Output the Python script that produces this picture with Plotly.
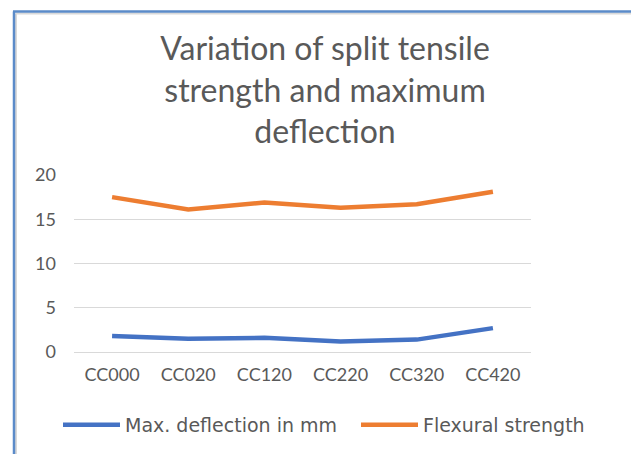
import plotly.graph_objects as go

categories = ["CC000", "CC020", "CC120", "CC220", "CC320", "CC420"]
max_deflection = [1.8, 1.5, 1.6, 1.2, 1.4, 2.7]
flexural_strength = [17.5, 16.1, 16.9, 16.3, 16.7, 18.1]
y_ticks = [0, 5, 10, 15, 20]

FONT = "Lato"
GRAY = "#595959"

fig = go.Figure()
fig.add_trace(go.Scatter(x=categories, y=max_deflection, mode="lines",
                         name="Max. deflection in mm", legend="legend",
                         line=dict(color="#4472C4", width=4.5)))
fig.add_trace(go.Scatter(x=categories, y=flexural_strength, mode="lines",
                         name="Flexural strength", legend="legend2",
                         line=dict(color="#ED7D31", width=4.5)))

L, R, T, B = 74, 100, 175, 102
W, H = 631, 454
pw, ph = W - L - R, H - T - B

def px(x):
    return (x - L) / pw

def py(y):
    return (H - B - y) / ph

shapes = [
    dict(type="line", xref="paper", yref="paper", x0=px(16), x1=px(W), y0=py(13.5), y1=py(13.5),
         line=dict(color="#D9D9D9", width=2)),
    dict(type="line", xref="paper", yref="paper", x0=px(16), x1=px(16), y0=py(13.5), y1=py(H),
         line=dict(color="#D9D9D9", width=2)),
    dict(type="line", xref="paper", yref="paper", x0=px(13), x1=px(W), y0=py(11.5), y1=py(11.5),
         line=dict(color="#5B8BC9", width=2.5)),
    dict(type="line", xref="paper", yref="paper", x0=px(14), x1=px(14), y0=py(11.5), y1=py(H),
         line=dict(color="#5B8BC9", width=2.5)),
]

legend_common = dict(orientation="h", xref="container", yref="container",
                     xanchor="left", y=1 - 425 / H, yanchor="middle",
                     font=dict(size=19, color=GRAY, family="DejaVu Sans"), itemwidth=57,
                     bgcolor="rgba(0,0,0,0)")

fig.update_layout(
    width=W, height=H,
    margin=dict(l=L, r=R, t=T, b=B, autoexpand=False),
    paper_bgcolor="white", plot_bgcolor="white",
    font=dict(family=FONT, color=GRAY),
    title=dict(text="Variation of split tensile<br>strength and maximum<br>deflection",
               x=325 / W, xanchor="center", xref="container",
               y=1 - 60 / H, yanchor="top", yref="container",
               font=dict(family=FONT, size=32, color=GRAY)),
    showlegend=True,
    legend=dict(x=58 / W, **legend_common),
    legend2=dict(x=356 / W, **legend_common),
    shapes=shapes,
)
fig.update_xaxes(type="category", range=[-0.5, 5.5], showgrid=False, showline=False,
                 zeroline=False, ticks="", tickfont=dict(size=18, color=GRAY),
                 ticklabelstandoff=10)
fig.update_yaxes(range=[0, 20], tickvals=y_ticks, showgrid=True, gridcolor="#D9D9D9",
                 gridwidth=1, zeroline=True, zerolinecolor="#D9D9D9", zerolinewidth=1,
                 showline=False, ticks="", tickfont=dict(size=18, color=GRAY),
                 ticklabelstandoff=17)

fig.write_html("out.html", config={"displayModeBar": False})
